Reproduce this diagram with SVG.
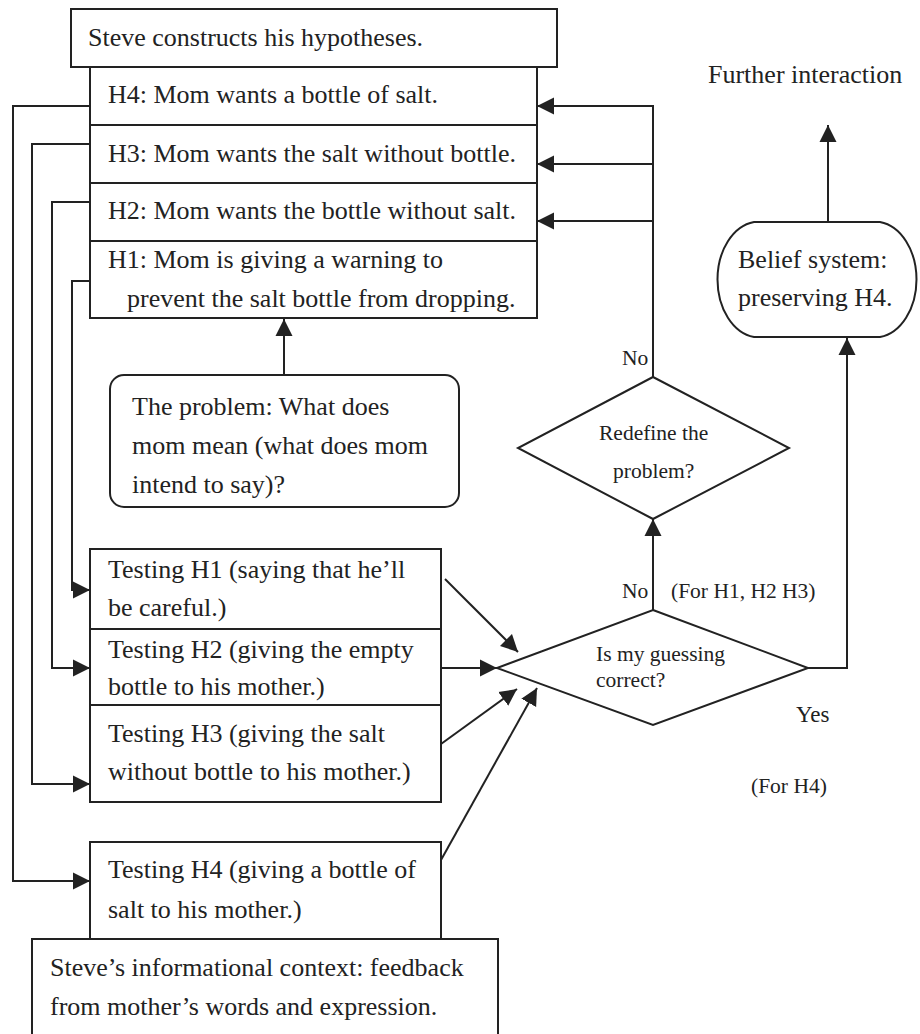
<svg xmlns="http://www.w3.org/2000/svg" width="920" height="1034" viewBox="0 0 920 1034">
  <style>
    .box { fill: #fff; stroke: #222; stroke-width: 2; }
    .ln { fill: none; stroke: #222; stroke-width: 2; }
    .t { font-family: "Liberation Serif", "Times New Roman", serif; font-size: 26px; fill: #222; }
    .s { font-family: "Liberation Serif", "Times New Roman", serif; font-size: 21.5px; fill: #222; }
  </style>
  <defs>
    <marker id="arr" markerUnits="userSpaceOnUse" markerWidth="18" markerHeight="18" refX="17" refY="9" orient="auto">
      <path d="M0,0.5 L17,9 L0,17.5 Z" fill="#222"/>
    </marker>
  </defs>
  <rect width="920" height="1034" fill="#fff"/>

  <g id="hypotheses-header">
    <rect class="box" x="71" y="9" width="486" height="58"/>
    <text class="t" x="88" y="46">Steve constructs his hypotheses.</text>
  </g>

  <g id="hypothesis-stack">
    <rect class="box" x="90" y="67" width="447" height="251"/>
    <path class="ln" d="M90 125 H537 M90 183 H537 M90 241 H537"/>
    <text class="t" x="108" y="103">H4: Mom wants a bottle of salt.</text>
    <text class="t" x="108" y="162">H3: Mom wants the salt without bottle.</text>
    <text class="t" x="108" y="219">H2: Mom wants the bottle without salt.</text>
    <text class="t" x="108" y="268">H1: Mom is giving a warning to</text>
    <text class="t" x="127" y="307">prevent the salt bottle from dropping.</text>
  </g>

  <g id="problem">
    <rect class="box" x="110" y="375" width="349" height="132" rx="14"/>
    <text class="t" x="132" y="415">The problem: What does</text>
    <text class="t" x="132" y="454">mom mean (what does mom</text>
    <text class="t" x="132" y="493">intend to say)?</text>
  </g>

  <g id="testing-stack">
    <rect class="box" x="90" y="549" width="351" height="253"/>
    <path class="ln" d="M90 629 H441 M90 705 H441"/>
    <text class="t" x="108" y="578">Testing H1 (saying that he’ll</text>
    <text class="t" x="108" y="616">be careful.)</text>
    <text class="t" x="108" y="658">Testing H2 (giving the empty</text>
    <text class="t" x="108" y="695">bottle to his mother.)</text>
    <text class="t" x="108" y="742">Testing H3 (giving the salt</text>
    <text class="t" x="108" y="780">without bottle to his mother.)</text>
  </g>

  <g id="testing-h4">
    <rect class="box" x="90" y="842" width="351" height="120"/>
    <text class="t" x="108" y="878">Testing H4 (giving a bottle of</text>
    <text class="t" x="108" y="918">salt to his mother.)</text>
  </g>

  <g id="context">
    <rect class="box" x="32" y="939" width="466" height="110"/>
    <text class="t" x="50" y="976">Steve’s informational context: feedback</text>
    <text class="t" x="50" y="1015">from mother’s words and expression.</text>
  </g>

  <g id="redefine">
    <path class="box" d="M653 377 L789 448 L653 519 L518 448 Z"/>
    <text class="s" x="599" y="440">Redefine the</text>
    <text class="s" x="613" y="478">problem?</text>
  </g>

  <g id="guess">
    <path class="box" d="M653 610 L808 668 L653 725 L497 668 Z"/>
    <text class="s" x="596" y="661">Is my guessing</text>
    <text class="s" x="596" y="687">correct?</text>
  </g>

  <g id="belief">
    <path class="box" d="M754 222 H880 A42 58 0 0 1 880 337 H754 A42 58 0 0 1 754 222 Z"/>
    <text class="t" x="738" y="268">Belief system:</text>
    <text class="t" x="738" y="306">preserving H4.</text>
  </g>

  <g id="further">
    <text class="t" x="708" y="83">Further interaction</text>
  </g>

  <g id="labels">
    <text class="s" x="622" y="365">No</text>
    <text class="s" x="622" y="598">No</text>
    <text class="s" x="671" y="598">(For H1, H2 H3)</text>
    <text class="s" x="796" y="722" style="font-size:23px">Yes</text>
    <text class="s" x="751" y="793">(For H4)</text>
  </g>

  <g id="connectors">
    <!-- hypotheses fan out to their tests -->
    <path class="ln" d="M90 106 H13 V881 H90" marker-end="url(#arr)"/>
    <path class="ln" d="M90 144 H32 V784 H90" marker-end="url(#arr)"/>
    <path class="ln" d="M90 202 H52 V668 H90" marker-end="url(#arr)"/>
    <path class="ln" d="M90 281 H72 V590 H90" marker-end="url(#arr)"/>
    <!-- problem feeds the hypotheses -->
    <path class="ln" d="M284 375 V319" marker-end="url(#arr)"/>
    <!-- tests feed the decision -->
    <path class="ln" d="M445 579 L518 652" marker-end="url(#arr)"/>
    <path class="ln" d="M441 668 H497" marker-end="url(#arr)"/>
    <path class="ln" d="M441 744 L517 689" marker-end="url(#arr)"/>
    <path class="ln" d="M441 860 L537 688" marker-end="url(#arr)"/>
    <!-- no: redefine the problem -->
    <path class="ln" d="M653 610 V519" marker-end="url(#arr)"/>
    <path class="ln" d="M653 377 V106 H537" marker-end="url(#arr)"/>
    <path class="ln" d="M653 164 H537" marker-end="url(#arr)"/>
    <path class="ln" d="M653 221 H537" marker-end="url(#arr)"/>
    <!-- yes: belief system, then further interaction -->
    <path class="ln" d="M808 668 H847 V338" marker-end="url(#arr)"/>
    <path class="ln" d="M828 222 V125" marker-end="url(#arr)"/>
  </g>
</svg>
